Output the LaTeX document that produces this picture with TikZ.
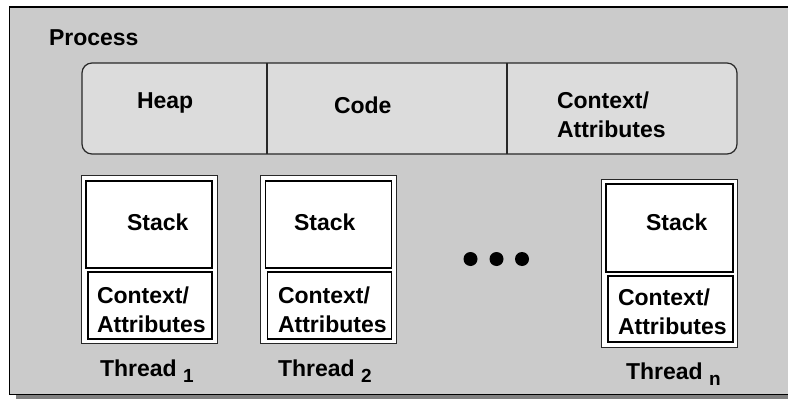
\documentclass[tikz,border=0pt]{standalone}
\usepackage{fontspec}
\setmainfont{Liberation Sans}
\definecolor{procfill}{RGB}{203,203,203}
\definecolor{barfill}{RGB}{220,220,220}
\definecolor{shadowgray}{RGB}{128,128,128}
\definecolor{edgegray}{RGB}{40,40,40}
\newcommand{\threadsub}[1]{\raisebox{-6pt}{\fontsize{19}{19}\selectfont #1}}
\begin{document}
\begin{tikzpicture}[x=1pt,y=-1pt,
  lbl/.style={font=\fontsize{23}{29}\selectfont\bfseries, inner sep=0pt, outer sep=0pt, anchor=base west, align=left},
  cell/.style={rectangle, inner sep=0pt, outer sep=0pt, anchor=north west},
  threadbox/.style={cell, draw=edgegray, line width=1pt, fill=white},
  innerbox/.style={cell, draw=black, line width=1.6pt, fill=white},
  dot/.style={circle, fill=black, inner sep=0pt, minimum size=14pt}
]
\useasboundingbox (0,0) rectangle (788,399);

% process frame with its drop shadow
\fill[shadowgray] (16,12) rectangle (810,410);
\node[cell, draw=black, line width=1.6pt, fill=procfill,
      minimum width=800pt, minimum height=387.5pt] (proc) at (9.5,7) {};
\node[lbl] (proclbl) at (49,45) {Process};

% shared segments: heap, code, context
\node[cell, draw=edgegray, line width=1.2pt, fill=barfill, rounded corners=10pt,
      minimum width=655pt, minimum height=91pt] (bar) at (82,63) {};
\node[cell, minimum width=185pt, minimum height=91pt] (heapcell) at (82,63) {};
\node[cell, minimum width=240pt, minimum height=91pt] (codecell) at (267,63) {};
\node[cell, minimum width=230pt, minimum height=91pt] (ctxcell) at (507,63) {};
\draw[edgegray, line width=1.2pt] (heapcell.north east) -- (heapcell.south east);
\draw[edgegray, line width=1.2pt] (codecell.north east) -- (codecell.south east);
\node[lbl] (heap) at (137,108) {Heap};
\node[lbl] (code) at (334,113) {Code};
% multi-line labels are placed by the baseline of their last line
\node[lbl] (ctx) at (557,137) {Context/\\Attributes};

% thread 1
\node[threadbox, minimum width=136pt, minimum height=168pt] (t1) at (81,175) {};
\node[innerbox, minimum width=126pt, minimum height=87pt] (t1stack) at (86,181) {};
\node[innerbox, minimum width=124pt, minimum height=67pt] (t1ctx) at (88,272) {};
\node[lbl] (t1stacklbl) at (127,230) {Stack};
\node[lbl] (t1ctxlbl) at (97,332) {Context/\\Attributes};
\node[lbl] (t1name) at (100,376) {Thread \threadsub{1}};

% thread 2
\node[threadbox, minimum width=136pt, minimum height=168pt] (t2) at (260,175) {};
\node[innerbox, minimum width=126pt, minimum height=87pt] (t2stack) at (265.5,181) {};
\node[innerbox, minimum width=124pt, minimum height=67pt] (t2ctx) at (267.5,272) {};
\node[lbl] (t2stacklbl) at (294,230) {Stack};
\node[lbl] (t2ctxlbl) at (278,332) {Context/\\Attributes};
\node[lbl] (t2name) at (278,376) {Thread \threadsub{2}};

% ellipsis
\node[dot] (d1) at (470.5,259) {};
\node[dot] (d2) at (496.5,259) {};
\node[dot] (d3) at (522,259) {};

% thread n
\node[threadbox, minimum width=136pt, minimum height=168pt] (tn) at (601,179) {};
\node[innerbox, minimum width=127pt, minimum height=88pt] (tnstack) at (606,184) {};
\node[innerbox, minimum width=125pt, minimum height=66pt] (tnctx) at (608,276) {};
\node[lbl] (tnstacklbl) at (646,230) {Stack};
\node[lbl] (tnctxlbl) at (618,334) {Context/\\Attributes};
\node[lbl] (tnname) at (626,379) {Thread \threadsub{n}};
\end{tikzpicture}
\end{document}
